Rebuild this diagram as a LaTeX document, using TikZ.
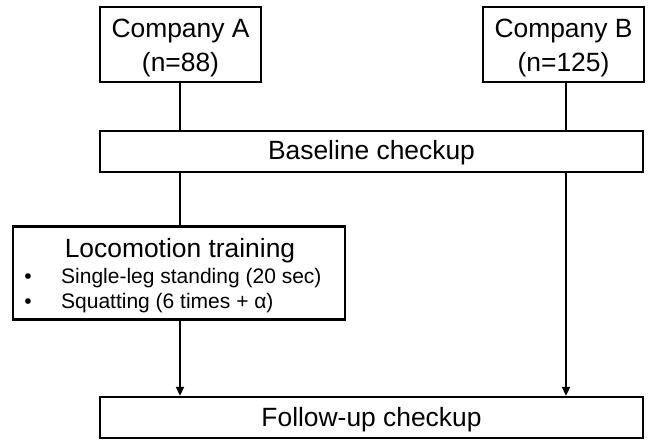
\documentclass[tikz,border=0pt]{standalone}
\usepackage{fontspec}
\setmainfont{Liberation Sans}
\usetikzlibrary{arrows.meta}
\begin{document}
\begin{tikzpicture}[x=1pt,y=-1pt,
  box/.style={draw, line width=2.4pt, inner sep=0pt},
  conn/.style={line width=2pt},
  arr/.style={line width=2pt, -{Triangle[length=9pt,width=8pt]}},
  big/.style={font=\fontsize{26.4}{30}\selectfont, inner sep=0pt, anchor=base},
  small/.style={font=\fontsize{21}{25}\selectfont, inner sep=0pt}]
\useasboundingbox (0,0) rectangle (648,441);
\node[box, minimum width=161pt, minimum height=75pt] (A) at (180.5,44.5) {};
\node[big] (At1) at (180.5,38) {Company A};
\node[big] (At2) at (180.5,72) {(n=88)};
\node[box, minimum width=161pt, minimum height=75pt] (B) at (563.5,44.5) {};
\node[big] (Bt1) at (563.5,38) {Company B};
\node[big] (Bt2) at (563.5,72) {(n=125)};
\node[box, minimum width=543pt, minimum height=41pt] (base) at (371.5,151.5) {};
\node[big] (baset) at (371.5,160) {Baseline checkup};
\node[box, minimum width=332pt, minimum height=93pt] (loco) at (179,273) {};
\node[big] (lt) at (180,257) {Locomotion training};
\node[small, anchor=base] (d1) at (28,283) {•};
\node[small, anchor=base west] (b1) at (61,283) {Single-leg standing (20 sec)};
\node[small, anchor=base] (d2) at (28,308) {•};
\node[small, anchor=base west] (b2) at (61,308) {Squatting (6 times + α)};
\node[box, minimum width=543pt, minimum height=41pt] (fu) at (371.5,417.5) {};
\node[big] (fut) at (371.5,426.5) {Follow-up checkup};
\coordinate (ax) at (180,82);
\coordinate (bx) at (566,82);
\draw[conn] (ax |- A.south) -- (ax |- base.north);
\draw[conn] (bx |- B.south) -- (bx |- base.north);
\draw[conn] (ax |- base.south) -- (ax |- loco.north);
\draw[arr] (ax |- loco.south) -- (ax |- fu.north);
\draw[arr] (bx |- base.south) -- (bx |- fu.north);
\end{tikzpicture}
\end{document}
